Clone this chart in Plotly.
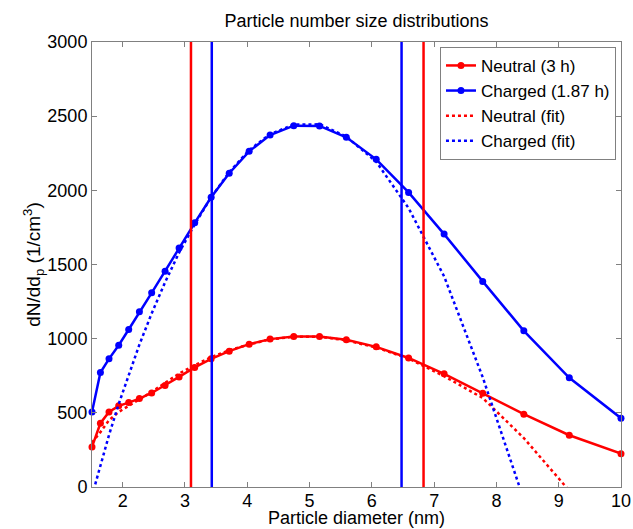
import plotly.graph_objs as go

# particle diameters (nm) shared by all series
diameter = [1.507, 1.642, 1.78, 1.936, 2.096, 2.268, 2.465, 2.68, 2.905, 3.156,
            3.42, 3.71, 4.03, 4.366, 4.746, 5.16, 5.59, 6.07, 6.59, 7.16,
            7.78, 8.44, 9.17, 10.0]

neutral = [270, 430, 506, 547, 569, 596, 634, 684, 742, 806,
           864, 916, 963, 997, 1015, 1015, 992, 945, 870, 763,
           632, 491, 349, 225]

charged = [506, 772, 864, 956, 1062, 1181, 1309, 1455, 1611, 1781,
           1953, 2115, 2263, 2373, 2436, 2434, 2358, 2209, 1986, 1705,
           1386, 1053, 736, 464]

neutral_fit = [300, 370, 450, 506, 547, 590, 641, 702, 765, 821,
               875, 922, 961, 995, 1013, 1013, 989, 940, 866, 747,
               600, 330, -25, -400]

charged_fit = [-60, 150, 350, 560, 760, 960, 1170, 1380, 1580, 1770,
               1953, 2123, 2271, 2379, 2443, 2445, 2362, 2193, 1880, 1420,
               740, -95, -1000, -2200]

# bounds of the fitting windows
neutral_bounds = [3.096, 6.83]
charged_bounds = [3.43, 6.477]

RED = "#ff0000"
BLUE = "#0000ff"
AXIS = "#808080"
FONT = "Liberation Sans, Arial, sans-serif"


def _layout():
    """
    Plot layout in the style of a MATLAB figure.
    """
    axis_common = dict(
        showline=True,
        linecolor=AXIS,
        linewidth=1,
        mirror="ticks",
        ticks="inside",
        ticklen=5,
        tickcolor=AXIS,
        showgrid=False,
        zeroline=False,
        automargin=False,
        layer="above traces",
        tickfont=dict(size=18, color="black"),
    )
    return dict(
        width=633,
        height=529,
        margin=dict(l=92, r=12, t=42, b=42),
        paper_bgcolor="white",
        plot_bgcolor="white",
        font=dict(family=FONT, color="black"),
        title=dict(
            text="Particle number size distributions",
            x=(92 + 621) / 2 / 633,
            xanchor="center",
            y=0.96,
            yanchor="middle",
            font=dict(size=18),
        ),
        xaxis=dict(
            range=[1.507, 10],
            tickvals=list(range(2, 11)),
            ticklabelstandoff=-3,
            **axis_common,
        ),
        yaxis=dict(
            range=[0, 3000],
            tickvals=list(range(0, 3001, 500)),
            title=dict(
                text="dN/dd<sub>p</sub> (1/cm<sup>3</sup>)",
                font=dict(size=19),
                standoff=0,
            ),
            **axis_common,
        ),
        annotations=[
            dict(
                text="Particle diameter (nm)",
                xref="paper",
                yref="paper",
                x=0.5,
                y=-42 / 444.7,
                xanchor="center",
                yanchor="bottom",
                borderpad=0,
                showarrow=False,
                font=dict(size=18),
            )
        ],
        showlegend=True,
        legend=dict(
            x=0.9905,
            y=0.989,
            xanchor="right",
            yanchor="top",
            bgcolor="white",
            bordercolor=AXIS,
            borderwidth=1,
            font=dict(size=17),
            tracegroupgap=0,
            itemwidth=30,
        ),
    )


data = []

data.append(
    go.Scatter(
        name="Neutral (3 h)",
        x=diameter,
        y=neutral,
        mode="lines+markers",
        line=dict(color=RED, width=2.5),
        marker=dict(color=RED, size=7),
        cliponaxis=False,
    )
)

data.append(
    go.Scatter(
        name="Charged (1.87 h)",
        x=diameter,
        y=charged,
        mode="lines+markers",
        line=dict(color=BLUE, width=2.5),
        marker=dict(color=BLUE, size=7),
        cliponaxis=False,
    )
)

data.append(
    go.Scatter(
        name="Neutral (fit)",
        x=diameter,
        y=neutral_fit,
        mode="lines",
        line=dict(color=RED, width=2.5, dash="dot"),
    )
)

data.append(
    go.Scatter(
        name="Charged (fit)",
        x=diameter,
        y=charged_fit,
        mode="lines",
        line=dict(color=BLUE, width=2.5, dash="dot"),
    )
)

fig = go.Figure(data=data, layout=_layout())

for xb in neutral_bounds:
    fig.add_vline(x=xb, line_color=RED, line_width=2.5, layer="above")
for xb in charged_bounds:
    fig.add_vline(x=xb, line_color=BLUE, line_width=2.5, layer="above")

# page body has a default 8px margin, drop it so the figure fills the window
fig.write_html(
    "out.html",
    config={"displayModeBar": False},
    post_script="document.body.style.margin = '0px';",
)
